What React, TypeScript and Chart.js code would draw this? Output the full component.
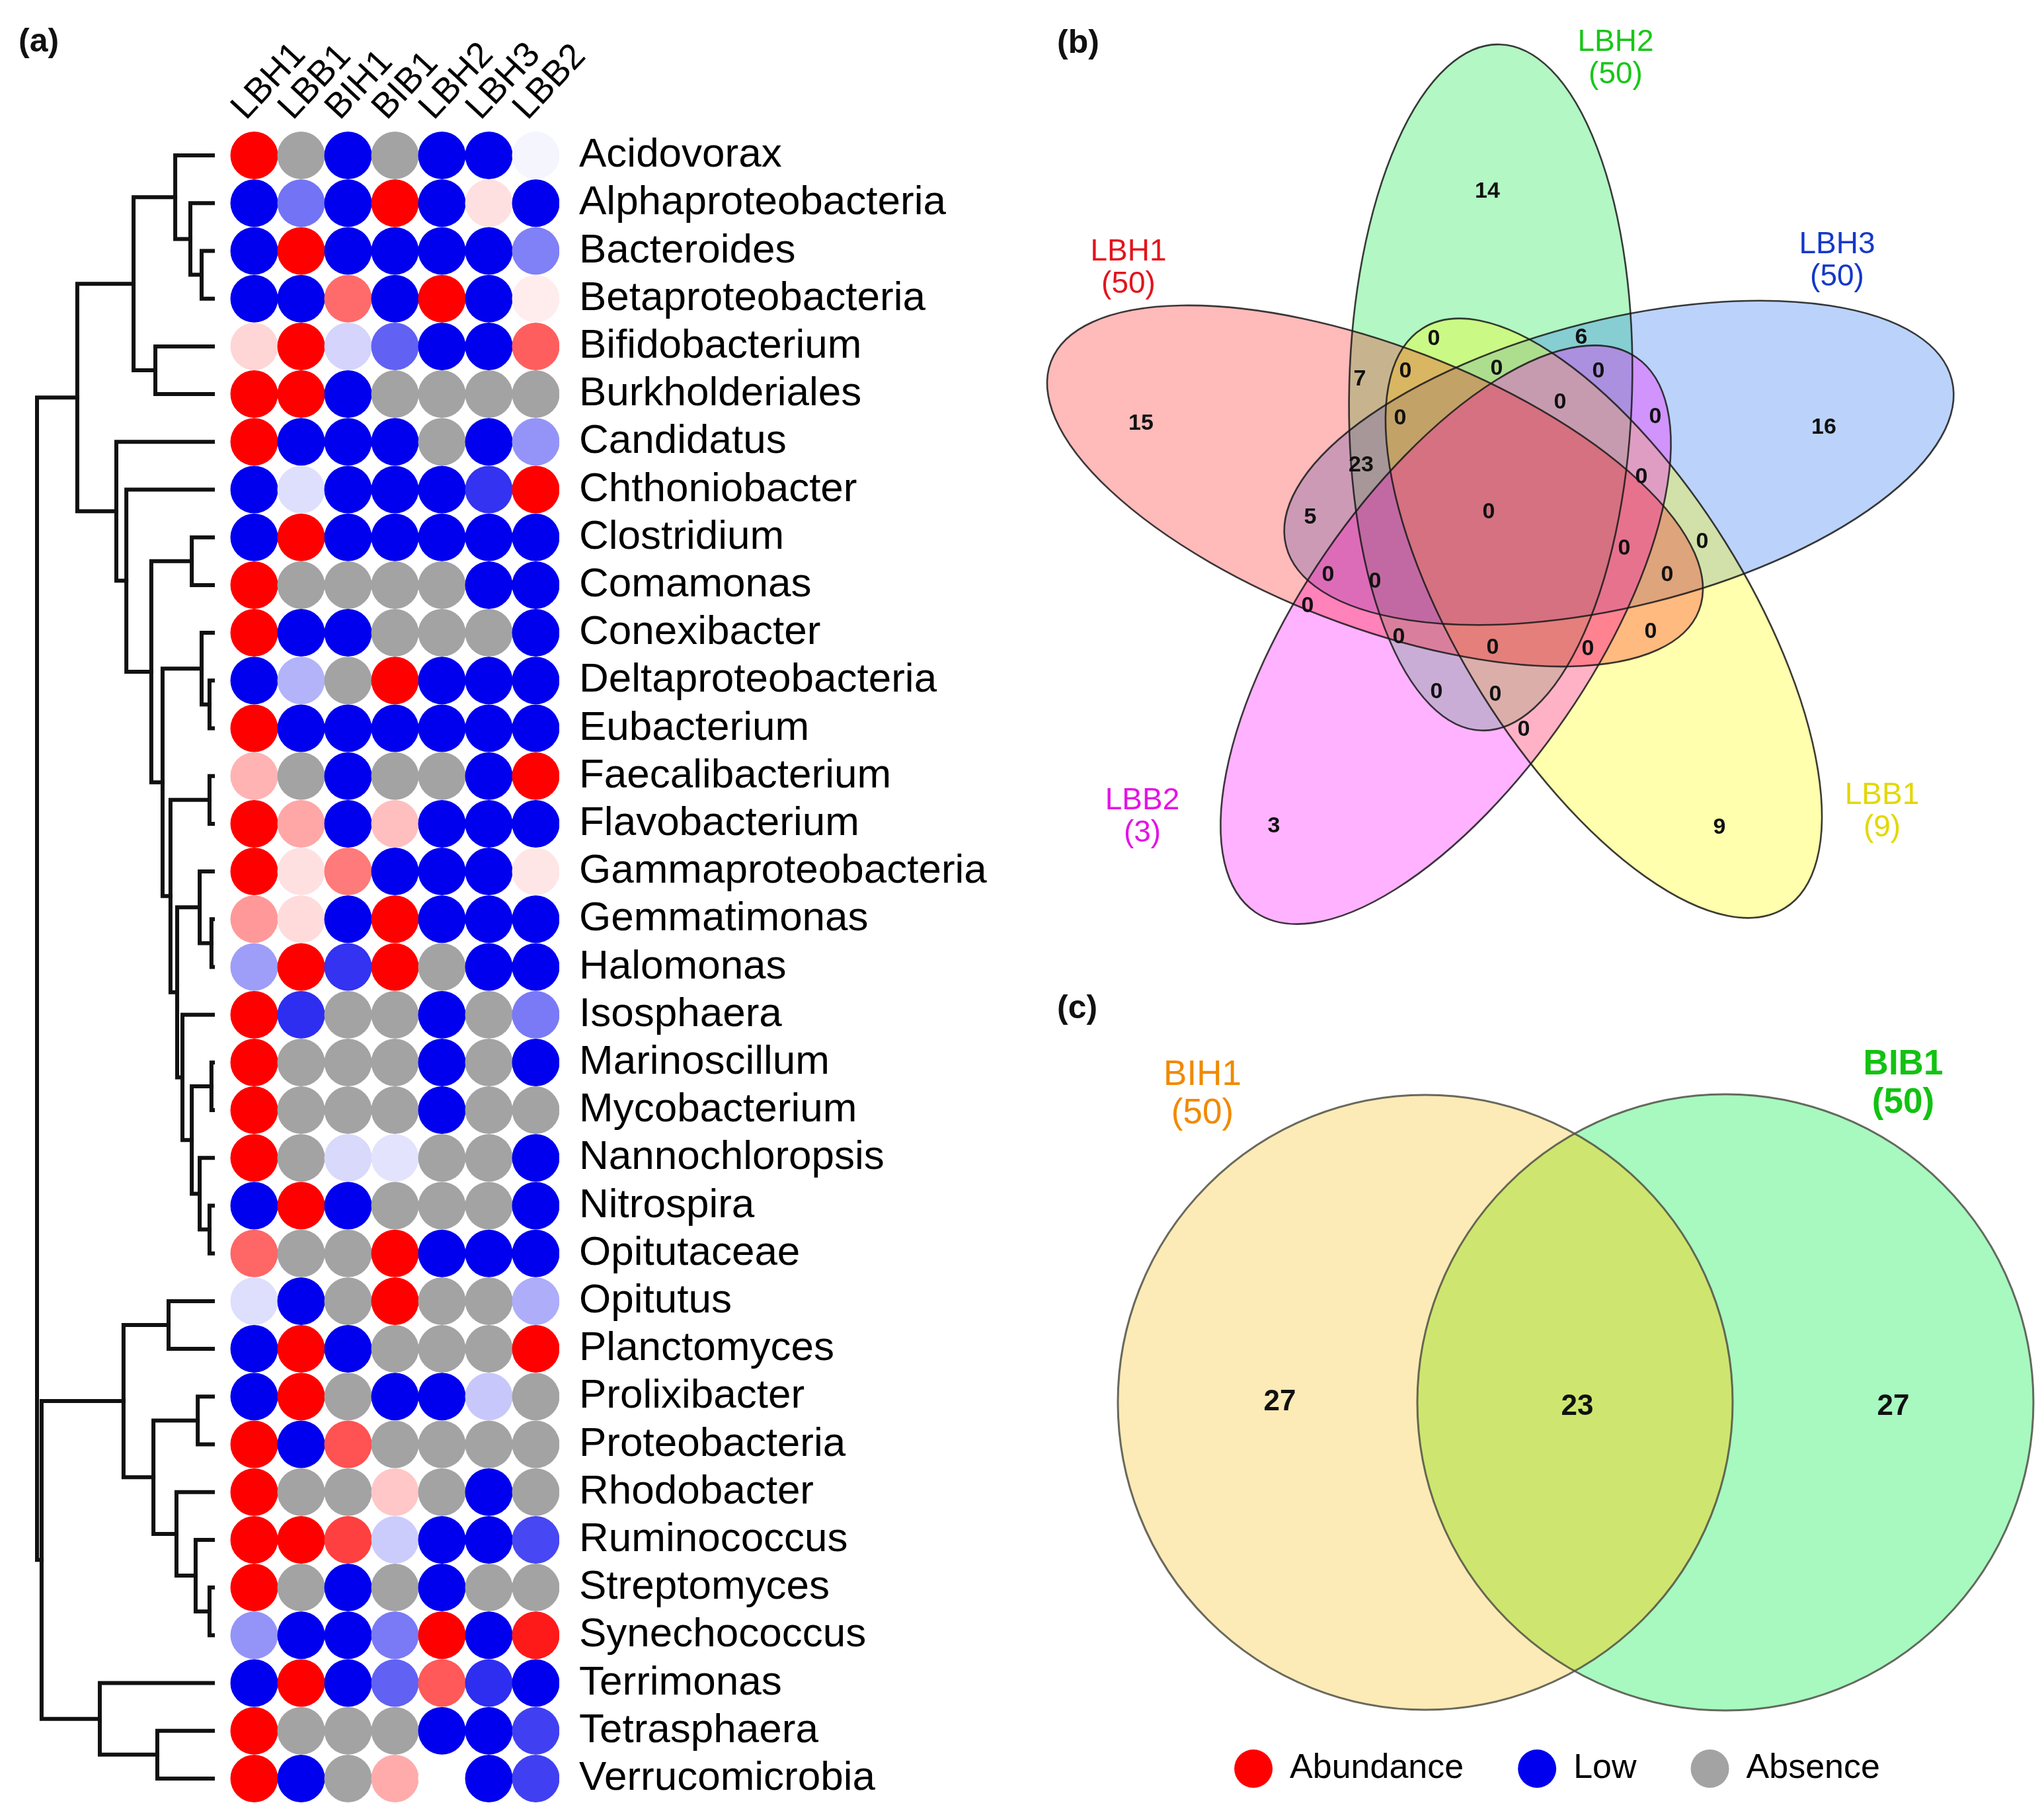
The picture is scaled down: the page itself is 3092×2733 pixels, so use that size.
import React, { useEffect, useRef } from "react";
import { Chart, registerables } from "chart.js";

Chart.register(...registerables);

const FONT = '"Liberation Sans", Arial, Helvetica, sans-serif';
const NARROW = '"Liberation Sans Narrow", "Liberation Sans", Arial, sans-serif';

// ================= (a) heat map + dendrogram =================
const sampleColumns = ["LBH1", "LBB1", "BIH1", "BIB1", "LBH2", "LBH3", "LBB2"];
const genusRows = [
  "Acidovorax", "Alphaproteobacteria", "Bacteroides", "Betaproteobacteria", "Bifidobacterium",
  "Burkholderiales", "Candidatus", "Chthoniobacter", "Clostridium", "Comamonas", "Conexibacter",
  "Deltaproteobacteria", "Eubacterium", "Faecalibacterium", "Flavobacterium", "Gammaproteobacteria",
  "Gemmatimonas", "Halomonas", "Isosphaera", "Marinoscillum", "Mycobacterium", "Nannochloropsis",
  "Nitrospira", "Opitutaceae", "Opitutus", "Planctomyces", "Prolixibacter", "Proteobacteria",
  "Rhodobacter", "Ruminococcus", "Streptomyces", "Synechococcus", "Terrimonas", "Tetrasphaera",
  "Verrucomicrobia",
];
// +1 = abundance (red), -1 = low (blue), fractions = lighter shades, null = absence (grey)
const _ = null;
const relativeLevels = [
  [1, _, -1, _, -1, -1, -0.04],
  [-1, -0.55, -1, 1, -1, 0.12, -1],
  [-1, 1, -1, -1, -1, -1, -0.5],
  [-1, -1, 0.58, -1, 1, -1, 0.07],
  [0.16, 1, -0.17, -0.62, -1, -1, 0.63],
  [1, 1, -1, _, _, _, _],
  [1, -1, -1, -1, _, -1, -0.42],
  [-1, -0.13, -1, -1, -1, -0.8, 1],
  [-1, 1, -1, -1, -1, -1, -1],
  [1, _, _, _, _, -1, -1],
  [1, -1, -1, _, _, _, -1],
  [-1, -0.3, _, 1, -1, -1, -1],
  [1, -1, -1, -1, -1, -1, -1],
  [0.3, _, -1, _, _, -1, 1],
  [1, 0.35, -1, 0.25, -1, -1, -1],
  [1, 0.12, 0.52, -1, -1, -1, 0.1],
  [0.4, 0.14, -1, 1, -1, -1, -1],
  [-0.38, 1, -0.8, 1, _, -1, -1],
  [1, -0.82, _, _, -1, _, -0.52],
  [1, _, _, _, -1, _, -1],
  [1, _, _, _, -1, _, _],
  [1, _, -0.15, -0.11, _, _, -1],
  [-1, 1, -1, _, _, _, -1],
  [0.6, _, _, 1, -1, -1, -1],
  [-0.13, -1, _, 1, _, _, -0.32],
  [-1, 1, -1, _, _, _, 1],
  [-1, 1, _, -1, -1, -0.22, _],
  [1, -1, 0.68, _, _, _, _],
  [1, _, _, 0.22, _, -1, _],
  [1, 1, 0.75, -0.2, -1, -1, -0.72],
  [1, _, -1, _, -1, _, _],
  [-0.42, -1, -1, -0.52, 1, -1, 0.9],
  [-1, 1, -1, -0.62, 0.65, -0.82, -1],
  [1, _, _, _, -1, -1, -0.75],
  [1, -1, _, 0.33, 0, -1, -0.75],
];
// hclust-style merges: negative = leaf (row index + 1), positive = earlier merge; last = height
const dendroMerges = [
  [-3, -4, 0.064], [-2, 1, 0.128], [-1, 2, 0.214], [-5, -6, 0.327], [3, 4, 0.451],
  [-9, -10, 0.12], [-12, -13, 0.019], [-11, 7, 0.064], [-14, -15, 0.019], [-17, -18, 0.008],
  [-16, 10, 0.075], [-20, -21, 0.008], [-23, -24, 0.019], [-22, 13, 0.075], [12, 14, 0.12],
  [-19, 15, 0.173], [11, 16, 0.203], [9, 17, 0.241], [8, 18, 0.286], [6, 19, 0.35],
  [-8, 20, 0.492], [-7, 21, 0.549], [5, 22, 0.771], [-25, -26, 0.252], [-27, -28, 0.086],
  [-31, -32, 0.019], [-30, 26, 0.098], [-29, 27, 0.207], [25, 28, 0.338], [24, 29, 0.508],
  [-34, -35, 0.316], [-33, 31, 0.643], [30, 32, 0.974], [23, 33, 1.0],
];

// ================= (b) five-set Venn =================
const fiveSetNames = ["LBH1", "LBH2", "LBH3", "LBB1", "LBB2"];
const fiveSetTotals = [50, 50, 50, 9, 3];
const fiveRegionCounts = [
  14, 15, 16, 3, 9, 0, 6, 7, 0, 0, 0, 0, 0, 0, 23, 0, 5, 0, 0, 0, 0, 0, 0, 0, 0, 0, 0, 0, 0, 0, 0,
];

// ================= (c) two-set Venn + legend =================
const twoSetNames = ["BIH1", "BIB1"];
const twoSetTotals = [50, 50];
const twoRegionCounts = [27, 23, 27];
const legendNames = ["Abundance", "Low", "Absence"];

// ---------------- layout / style ----------------
const FIG_W = 3092;
const FIG_H = 2733;
const A_W = 1560;
const A_AREA_RIGHT = 846;
const A_AREA_TOP = 199;
const A_PAD_BOTTOM = 7;
const COL_PX = 71;
const FIRST_COL_PX = 384.5;
const LEAF_PX = 322;
const ROOT_PX = 56;
const DOT_R = 36;

const RED = [255, 0, 0];
const BLUE = [0, 0, 238];
const GREY = "#a3a3a3";
const legendColors = ["#ff0000", "#0000ee", GREY];

function levelColor(v) {
  if (v === null || v === undefined) return GREY;
  const t = Math.min(1, Math.abs(v));
  const c = v >= 0 ? RED : BLUE;
  const m = (k) => Math.round(255 + (c[k] - 255) * t);
  return `rgb(${m(0)},${m(1)},${m(2)})`;
}

// Venn geometry in figure pixel units (B/C canvases map 1:1 through their scales)
const B_LEFT = 1560, B_W = 1532, B_H = 1450;
const venn5Shapes = [
  { cx: 2080, cy: 735, a: 525, b: 212, rot: 21, fill: "rgba(255,0,0,0.27)", text: "#e3141c", lx: 1707, ly: 381 },
  { cx: 2255, cy: 586, a: 519, b: 214, rot: 91.5, fill: "rgba(0,230,60,0.30)", text: "#19c619", lx: 2444, ly: 64 },
  { cx: 2449, cy: 700, a: 519, b: 217, rot: -14, fill: "rgba(30,110,240,0.30)", text: "#1438c8", lx: 2779, ly: 370 },
  { cx: 2426, cy: 935, a: 517, b: 217, rot: 58, fill: "rgba(255,255,0,0.32)", text: "#e3d800", lx: 2847, ly: 1203 },
  { cx: 2187, cy: 960, a: 509, b: 220, rot: 124.5, fill: "rgba(255,0,255,0.30)", text: "#e414e4", lx: 1728, ly: 1211 },
];
const venn5DrawOrder = [1, 2, 3, 4, 0];
const venn5RegionPos = [
  [2250, 290], [1726, 641], [2759, 647], [1927, 1250], [2601, 1252], [2169, 513], [2392, 511],
  [2057, 574], [2126, 562], [2264, 558], [2418, 562], [2360, 609], [2118, 633], [2504, 631],
  [2059, 704], [2483, 722], [1982, 783], [2252, 775], [2575, 820], [2457, 830], [2009, 870],
  [2080, 880], [2522, 870], [1978, 917], [2116, 964], [2497, 956], [2258, 980], [2402, 982],
  [2173, 1047], [2262, 1051], [2305, 1104],
];

const C_TOP = 1450, C_H = 1283;
const C_PAD_LEFT = 59, C_PAD_BOTTOM = 22;
const LEG_FONT = 52, LEG_PAD = 82;
const C_AREA_H = C_H - C_PAD_BOTTOM - (LEG_FONT + LEG_PAD + 10);
const venn2Shapes = [
  { cx: 2156, cy: 2121, r: 465, fill: "#fcebb6", text: "#f08a00", bold: false, lx: 1819, ly: 1626 },
  { cx: 2610, cy: 2121, r: 466, fill: "#a7f9c0", text: "#12c212", bold: true, lx: 2879, ly: 1610 },
];
const venn2Overlap = "#cee66f";
const venn2RegionPos = [[1936, 2121], [2386, 2128], [2864, 2128]];

// ---------------- helpers ----------------
function buildDendroSegments() {
  const nodeY = [];
  const nodeH = [];
  const at = (ref) => (ref < 0 ? { y: -ref - 1, h: 0 } : { y: nodeY[ref - 1], h: nodeH[ref - 1] });
  const segs = [];
  dendroMerges.forEach(([l, r, h], i) => {
    const p = at(l);
    const q = at(r);
    nodeY[i] = (p.y + q.y) / 2;
    nodeH[i] = h;
    segs.push([
      { x: p.h, y: p.y },
      { x: h, y: p.y },
      { x: h, y: q.y },
      { x: q.h, y: q.y },
    ]);
  });
  return segs;
}

function tagPlugin(id, tag, x, y) {
  return {
    id,
    afterDraw(chart) {
      const ctx = chart.ctx;
      ctx.save();
      ctx.font = `bold 50px ${FONT}`;
      ctx.fillStyle = "#111";
      ctx.textAlign = "left";
      ctx.textBaseline = "middle";
      ctx.fillText(tag, x, y);
      ctx.restore();
    },
  };
}

function ellipsePath(chart, cx, cy, rx, ry, rotDeg) {
  const { x, y } = chart.scales;
  const ctx = chart.ctx;
  const px = x.getPixelForValue(cx);
  const py = y.getPixelForValue(cy);
  const prx = Math.abs(x.getPixelForValue(cx + rx) - px);
  const pry = Math.abs(y.getPixelForValue(cy + ry) - py);
  ctx.beginPath();
  ctx.ellipse(px, py, prx, pry, (rotDeg * Math.PI) / 180, 0, Math.PI * 2);
}

function drawTwoLineLabel(chart, name, total, lx, ly, color, font, gap) {
  const { x, y } = chart.scales;
  const ctx = chart.ctx;
  ctx.save();
  ctx.font = font;
  ctx.fillStyle = color;
  ctx.textAlign = "center";
  ctx.textBaseline = "middle";
  ctx.fillText(name, x.getPixelForValue(lx), y.getPixelForValue(ly));
  ctx.fillText(`(${total})`, x.getPixelForValue(lx), y.getPixelForValue(ly + gap));
  ctx.restore();
}

function drawCounts(chart, counts, font) {
  const meta = chart.getDatasetMeta(0);
  const ctx = chart.ctx;
  ctx.save();
  ctx.font = font;
  ctx.fillStyle = "#111";
  ctx.textAlign = "center";
  ctx.textBaseline = "middle";
  meta.data.forEach((pt, i) => ctx.fillText(String(counts[i]), pt.x, pt.y));
  ctx.restore();
}

// ---------------- chart configs ----------------
function configA() {
  const cells = [];
  relativeLevels.forEach((row, r) =>
    row.forEach((v, c) => cells.push({ x: c, y: r, v }))
  );
  const dendro = buildDendroSegments().map((seg) => ({
    type: "line",
    data: seg,
    xAxisID: "xd",
    yAxisID: "y",
    borderColor: "#111",
    borderWidth: 6,
    borderCapStyle: "square",
    borderJoinStyle: "miter",
    pointRadius: 0,
    fill: false,
    tension: 0,
  }));
  const dUnit = LEAF_PX - ROOT_PX;
  const dMax = LEAF_PX / dUnit;
  return {
    type: "scatter",
    data: {
      datasets: [
        {
          data: cells,
          pointRadius: DOT_R,
          pointHoverRadius: DOT_R,
          pointBorderWidth: 0,
          pointBackgroundColor: cells.map((c) => levelColor(c.v)),
          xAxisID: "x",
          yAxisID: "y",
        },
        ...dendro,
      ],
    },
    options: {
      animation: false,
      responsive: false,
      devicePixelRatio: 1,
      events: [],
      layout: { autoPadding: false, padding: { left: 0, right: 0, top: 0, bottom: A_PAD_BOTTOM } },
      plugins: { legend: { display: false }, tooltip: { enabled: false } },
      scales: {
        x: {
          type: "linear",
          position: "top",
          min: -FIRST_COL_PX / COL_PX,
          max: (A_AREA_RIGHT - FIRST_COL_PX) / COL_PX,
          afterBuildTicks: (s) => {
            s.ticks = sampleColumns.map((_n, i) => ({ value: i }));
          },
          afterFit: (s) => {
            s.height = A_AREA_TOP;
            s.paddingLeft = 0;
            s.paddingRight = 0;
          },
          ticks: {
            autoSkip: false,
            minRotation: 47,
            maxRotation: 47,
            padding: 4,
            labelOffset: 24,
            color: "#000",
            font: { size: 54, family: FONT },
            callback: (v) => sampleColumns[v],
          },
          grid: { display: false, drawTicks: false },
          border: { display: false },
        },
        xd: {
          type: "linear",
          axis: "x",
          display: false,
          reverse: true,
          max: dMax,
          min: dMax - A_AREA_RIGHT / dUnit,
        },
        y: {
          type: "linear",
          position: "right",
          reverse: true,
          min: -0.5,
          max: genusRows.length - 0.5,
          afterBuildTicks: (s) => {
            s.ticks = genusRows.map((_n, i) => ({ value: i }));
          },
          afterFit: (s) => {
            s.width = A_W - A_AREA_RIGHT;
            s.paddingTop = 0;
            s.paddingBottom = 0;
          },
          ticks: {
            autoSkip: false,
            padding: 30,
            color: "#000",
            font: { size: 62, family: FONT },
            callback: (v) => genusRows[v],
          },
          grid: { display: false, drawTicks: false },
          border: { display: false },
        },
      },
    },
    plugins: [tagPlugin("tagA", "(a)", 28, 64)],
  };
}

const venn5Plugin = {
  id: "venn5",
  beforeDatasetsDraw(chart) {
    const ctx = chart.ctx;
    ctx.save();
    venn5DrawOrder.forEach((i) => {
      const e = venn5Shapes[i];
      ellipsePath(chart, e.cx, e.cy, e.a, e.b, e.rot);
      ctx.fillStyle = e.fill;
      ctx.fill();
    });
    ctx.lineWidth = 2.6;
    ctx.strokeStyle = "rgba(25,25,25,0.85)";
    venn5Shapes.forEach((e) => {
      ellipsePath(chart, e.cx, e.cy, e.a, e.b, e.rot);
      ctx.stroke();
    });
    ctx.restore();
    venn5Shapes.forEach((e, i) =>
      drawTwoLineLabel(chart, fiveSetNames[i], fiveSetTotals[i], e.lx, e.ly, e.text, `46px ${FONT}`, 49)
    );
  },
  afterDatasetsDraw(chart) {
    drawCounts(chart, fiveRegionCounts, `bold 34px ${NARROW}`);
  },
};

function configB() {
  return {
    type: "scatter",
    data: {
      datasets: [
        {
          data: venn5RegionPos.map(([x, y]) => ({ x, y })),
          pointRadius: 0,
          pointHoverRadius: 0,
        },
      ],
    },
    options: {
      animation: false,
      responsive: false,
      devicePixelRatio: 1,
      events: [],
      layout: { autoPadding: false, padding: 0 },
      plugins: { legend: { display: false }, tooltip: { enabled: false } },
      scales: {
        x: { type: "linear", display: false, min: B_LEFT, max: B_LEFT + B_W },
        y: { type: "linear", display: false, reverse: true, min: 0, max: B_H },
      },
    },
    plugins: [venn5Plugin, tagPlugin("tagB", "(b)", 39, 66)],
  };
}

const venn2Plugin = {
  id: "venn2",
  beforeDatasetsDraw(chart) {
    const ctx = chart.ctx;
    const [L, R] = venn2Shapes;
    ctx.save();
    venn2Shapes.forEach((c) => {
      ellipsePath(chart, c.cx, c.cy, c.r, c.r, 0);
      ctx.fillStyle = c.fill;
      ctx.fill();
    });
    ctx.save();
    ellipsePath(chart, L.cx, L.cy, L.r, L.r, 0);
    ctx.clip();
    ellipsePath(chart, R.cx, R.cy, R.r, R.r, 0);
    ctx.fillStyle = venn2Overlap;
    ctx.fill();
    ctx.restore();
    ctx.lineWidth = 3;
    ctx.strokeStyle = "rgba(80,80,70,0.85)";
    venn2Shapes.forEach((c) => {
      ellipsePath(chart, c.cx, c.cy, c.r, c.r, 0);
      ctx.stroke();
    });
    ctx.restore();
    venn2Shapes.forEach((c, i) =>
      drawTwoLineLabel(
        chart,
        twoSetNames[i],
        twoSetTotals[i],
        c.lx,
        c.ly,
        c.text,
        `${c.bold ? "bold " : ""}53px ${FONT}`,
        58
      )
    );
  },
  afterDatasetsDraw(chart) {
    drawCounts(chart, twoRegionCounts, `bold 44px ${NARROW}`);
  },
};

function configC() {
  return {
    type: "scatter",
    data: {
      datasets: [
        {
          data: venn2RegionPos.map(([x, y]) => ({ x, y })),
          pointRadius: 0,
          pointHoverRadius: 0,
        },
      ],
    },
    options: {
      animation: false,
      responsive: false,
      devicePixelRatio: 1,
      events: [],
      layout: { autoPadding: false, padding: { left: C_PAD_LEFT, right: 0, top: 0, bottom: C_PAD_BOTTOM } },
      plugins: {
        tooltip: { enabled: false },
        legend: {
          display: true,
          position: "bottom",
          align: "center",
          labels: {
            usePointStyle: true,
            pointStyle: "circle",
            pointStyleWidth: 58,
            boxHeight: 41,
            padding: LEG_PAD,
            color: "#111",
            font: { size: LEG_FONT, family: FONT },
            generateLabels: () =>
              legendNames.map((n, i) => ({
                text: n,
                fillStyle: legendColors[i],
                strokeStyle: legendColors[i],
                lineWidth: 0,
                pointStyle: "circle",
                hidden: false,
                datasetIndex: 0,
              })),
          },
        },
      },
      scales: {
        x: { type: "linear", display: false, min: B_LEFT + C_PAD_LEFT, max: FIG_W },
        y: { type: "linear", display: false, reverse: true, min: C_TOP, max: C_TOP + C_AREA_H },
      },
    },
    plugins: [venn2Plugin, tagPlugin("tagC", "(c)", 39, 76)],
  };
}

export default function App() {
  const aRef = useRef(null);
  const bRef = useRef(null);
  const cRef = useRef(null);
  useEffect(() => {
    const charts = [
      new Chart(aRef.current, configA()),
      new Chart(bRef.current, configB()),
      new Chart(cRef.current, configC()),
    ];
    return () => charts.forEach((c) => c.destroy());
  }, []);
  const abs = (left, top, w, h) => ({ position: "absolute", left, top, width: w, height: h });
  return (
    <div style={{ position: "relative", width: FIG_W, height: FIG_H, background: "#fff", overflow: "hidden" }}>
      <style>{"html,body{margin:0;padding:0;background:#fff;}"}</style>
      <canvas ref={aRef} width={A_W} height={FIG_H} style={abs(0, 0, A_W, FIG_H)} />
      <canvas ref={bRef} width={B_W} height={B_H} style={abs(B_LEFT, 0, B_W, B_H)} />
      <canvas ref={cRef} width={B_W} height={C_H} style={abs(B_LEFT, C_TOP, B_W, C_H)} />
    </div>
  );
}
